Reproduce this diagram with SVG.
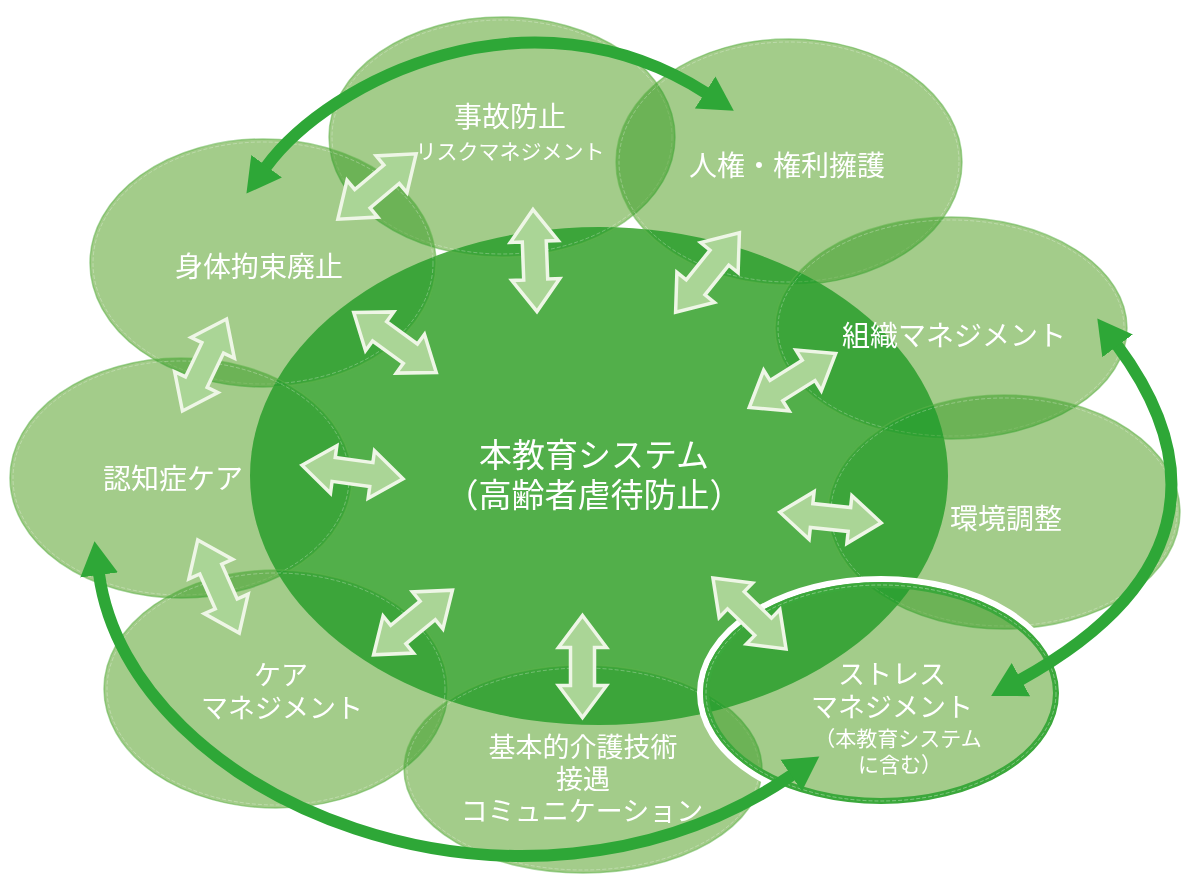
<svg xmlns="http://www.w3.org/2000/svg" xmlns:xlink="http://www.w3.org/1999/xlink" width="1181" height="878" viewBox="0 0 1181 878">
<style>
.bub{fill:rgb(28,255,84);fill-opacity:.405;stroke:none}
.bubm{fill:rgb(255,85,36);fill-opacity:.3;stroke:none;mix-blend-mode:multiply}
.edge{fill:none;stroke:#5fb24b;stroke-width:1.5;stroke-opacity:.55}
.inner{fill:none;stroke:#ffffff;stroke-width:.7;stroke-dasharray:4 2;opacity:.4}
.lbl{font-family:"Noto Sans CJK JP","Noto Sans",sans-serif;fill:#ffffff;font-size:28px;text-anchor:middle}
.ml{font-size:27px}
.sm{font-size:21px}
.ctr{font-size:33px}
.dbl{fill:#aad596;stroke:#eef6e6;stroke-width:3.5;stroke-linejoin:miter}
.big{fill:none;stroke:#2ea737;stroke-width:12}
</style>
<defs>
<marker id="head" markerUnits="userSpaceOnUse" viewBox="0 -20 36 40" refX="1" refY="0" markerWidth="36" markerHeight="40" orient="auto-start-reverse">
<path d="M0,-19 L34,0 L0,19 Z" fill="#2ea737"/>
</marker>
<path id="dbl" class="dbl" d="M-51,0 L-19,-24 L-19,-12 L19,-12 L19,-24 L51,0 L19,24 L19,12 L-19,12 L-19,24 Z"/>
</defs>
<rect width="1181" height="878" fill="#ffffff"/>

<g id="center">
<ellipse cx="599" cy="476" rx="349" ry="249" fill="#52af4a"/>
</g>

<g id="jiko">
<ellipse class="bub" cx="502" cy="137" rx="173" ry="120"/>
<ellipse class="bubm" cx="502" cy="137" rx="173" ry="120"/>
<ellipse class="edge" cx="502" cy="137" rx="173" ry="120"/>
<ellipse class="inner" cx="502" cy="137" rx="170" ry="117"/>
</g>
<g id="jinken">
<ellipse class="bub" cx="789" cy="162" rx="173" ry="123"/>
<ellipse class="bubm" cx="789" cy="162" rx="173" ry="123"/>
<ellipse class="edge" cx="789" cy="162" rx="173" ry="123"/>
<ellipse class="inner" cx="789" cy="162" rx="170" ry="120"/>
</g>
<g id="shintai">
<ellipse class="bub" cx="263" cy="263" rx="173" ry="124"/>
<ellipse class="bubm" cx="263" cy="263" rx="173" ry="124"/>
<ellipse class="edge" cx="263" cy="263" rx="173" ry="124"/>
<ellipse class="inner" cx="263" cy="263" rx="170" ry="121"/>
</g>
<g id="ninchi">
<ellipse class="bub" cx="181" cy="478" rx="171" ry="120"/>
<ellipse class="bubm" cx="181" cy="478" rx="171" ry="120"/>
<ellipse class="edge" cx="181" cy="478" rx="171" ry="120"/>
<ellipse class="inner" cx="181" cy="478" rx="168" ry="117"/>
</g>
<g id="caremgmt">
<ellipse class="bub" cx="276" cy="689" rx="172" ry="119"/>
<ellipse class="bubm" cx="276" cy="689" rx="172" ry="119"/>
<ellipse class="edge" cx="276" cy="689" rx="172" ry="119"/>
<ellipse class="inner" cx="276" cy="689" rx="169" ry="116"/>
</g>
<g id="kihon">
<ellipse class="bub" cx="583" cy="769" rx="179" ry="104"/>
<ellipse class="bubm" cx="583" cy="769" rx="179" ry="104"/>
<ellipse class="edge" cx="583" cy="769" rx="179" ry="104"/>
<ellipse class="inner" cx="583" cy="769" rx="176" ry="101"/>
</g>
<g id="soshiki">
<ellipse class="bub" cx="951" cy="328" rx="176" ry="111"/>
<ellipse class="bubm" cx="951" cy="328" rx="176" ry="111"/>
<ellipse class="edge" cx="951" cy="328" rx="176" ry="111"/>
<ellipse class="inner" cx="951" cy="328" rx="173" ry="108"/>
</g>
<g id="kankyo">
<ellipse class="bub" cx="1004" cy="512" rx="176" ry="117"/>
<ellipse class="bubm" cx="1004" cy="512" rx="176" ry="117"/>
<ellipse class="edge" cx="1004" cy="512" rx="176" ry="117"/>
<ellipse class="inner" cx="1004" cy="512" rx="173" ry="114"/>
</g>
<g id="stress">
<ellipse class="bub" cx="881" cy="693" rx="175" ry="108"/>
<ellipse class="bubm" cx="881" cy="693" rx="175" ry="108"/>
<ellipse cx="881" cy="693" rx="181" ry="114" fill="none" stroke="#ffffff" stroke-width="6"/>
<ellipse cx="881" cy="693" rx="175" ry="108" fill="none" stroke="#3ba83b" stroke-width="6"/>
<ellipse cx="881" cy="693" rx="175" ry="108" fill="none" stroke="#ffffff" stroke-width=".7" stroke-dasharray="4 2" opacity=".5"/>
</g>

<g id="labels">
<text class="lbl ctr" x="594" y="467">本教育システム</text>
<text class="lbl ctr" x="594" y="507">（高齢者虐待防止）</text>
<text class="lbl" x="510" y="127">事故防止</text>
<text class="lbl sm" x="510" y="159">リスクマネジメント</text>
<text class="lbl" x="787" y="176">人権・権利擁護</text>
<text class="lbl" x="259" y="277">身体拘束廃止</text>
<text class="lbl" x="173" y="489">認知症ケア</text>
<text class="lbl ml" x="281" y="685">ケア</text>
<text class="lbl ml" x="282" y="718">マネジメント</text>
<text class="lbl ml" x="583" y="757">基本的介護技術</text>
<text class="lbl ml" x="583" y="789">接遇</text>
<text class="lbl ml" x="582" y="821">コミュニケーション</text>
<text class="lbl" x="954" y="346">組織マネジメント</text>
<text class="lbl" x="1006" y="529">環境調整</text>
<text class="lbl ml" x="892" y="684">ストレス</text>
<text class="lbl ml" x="892" y="717">マネジメント</text>
<text class="lbl sm" x="898" y="746">（本教育システム</text>
<text class="lbl sm" x="900" y="772">に含む）</text>
</g>

<g id="connectors">
<use xlink:href="#dbl" href="#dbl" transform="translate(377,186.5) rotate(-39.9)"/>
<use xlink:href="#dbl" href="#dbl" transform="translate(535,260.5) rotate(87.8)"/>
<use xlink:href="#dbl" href="#dbl" transform="translate(707.5,272.5) rotate(128.7)"/>
<use xlink:href="#dbl" href="#dbl" transform="translate(395,342.5) rotate(36)"/>
<use xlink:href="#dbl" href="#dbl" transform="translate(204.5,365) rotate(115.6)"/>
<use xlink:href="#dbl" href="#dbl" transform="translate(352.5,472) rotate(7.6)"/>
<use xlink:href="#dbl" href="#dbl" transform="translate(218.5,586.5) rotate(66)"/>
<use xlink:href="#dbl" href="#dbl" transform="translate(413,622.5) rotate(-39.3)"/>
<use xlink:href="#dbl" href="#dbl" transform="translate(582.5,666.5) rotate(90)"/>
<use xlink:href="#dbl" href="#dbl" transform="translate(749.5,613.5) rotate(44.2)"/>
<use xlink:href="#dbl" href="#dbl" transform="translate(830.5,517.5) rotate(6)"/>
<use xlink:href="#dbl" href="#dbl" transform="translate(792.5,380.5) rotate(148)"/>
<path class="big" d="M266,167 C330,80 530,-20 706,93" marker-start="url(#head)" marker-end="url(#head)"/>
<path class="big" d="M1117,345 C1195,450 1210,575 1020,680" marker-start="url(#head)" marker-end="url(#head)"/>
<path class="big" d="M99,574 C130,800 520,960 792,775" marker-start="url(#head)" marker-end="url(#head)"/>
</g>
</svg>
